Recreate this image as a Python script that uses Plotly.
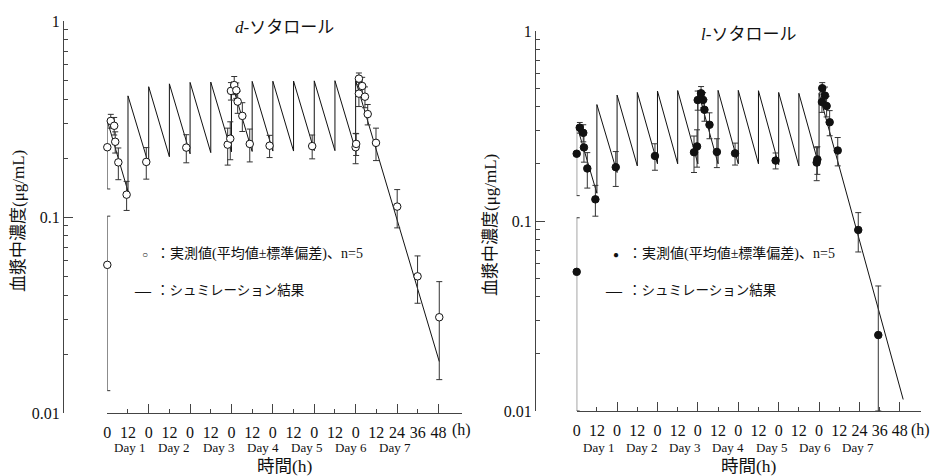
import plotly.graph_objects as go

W, H = 943, 476

# ---- d-sotalol: observed mean and SD (µg/mL) against time (h) ----
D_TIME = [0, 0, 2, 4, 4.6, 6.4, 11.2, 22.6, 45.8,
          69.8, 71.3, 71.7, 73.6, 74.8, 75.6, 78.3, 82.6,
          94.1, 118.8,
          144.0, 144.3, 145.9, 145.9, 147.8, 149.4, 151.0, 155.8,
          168.1, 179.9, 192.5]
D_MEAN = [0.227, 0.057, 0.309, 0.292, 0.242, 0.190, 0.130, 0.191, 0.226,
          0.234, 0.251, 0.440, 0.471, 0.443, 0.388, 0.328, 0.236,
          0.231, 0.230,
          0.227, 0.236, 0.508, 0.426, 0.466, 0.411, 0.335, 0.239,
          0.113, 0.0498, 0.0308]
D_SD = [0.088, 0.044, 0.025, 0.030, 0.030, 0.035, 0.022, 0.035, 0.037,
        0.050, 0.055, 0.045, 0.050, 0.040, 0.050, 0.055, 0.045,
        0.030, 0.032,
        0.040, 0.030, 0.035, 0.060, 0.050, 0.050, 0.040, 0.045,
        0.025, 0.0135, 0.016]

# d-sotalol simulated profile (vertices of the dosing sawtooth)
D_SIM_TIME = [0, 12, 12, 24, 24, 36, 36, 48, 48, 60, 60, 72, 72, 84, 84,
              96, 96, 108, 108, 120, 120, 132, 132, 144, 144, 192.5]
D_SIM_CONC = [0.31, 0.135, 0.415, 0.185, 0.462, 0.203, 0.478, 0.210, 0.486,
              0.213, 0.488, 0.215, 0.490, 0.216, 0.492, 0.217, 0.493,
              0.217, 0.494, 0.218, 0.495, 0.218, 0.496, 0.219, 0.497, 0.0183]

# ---- l-sotalol: observed mean and SD (µg/mL) against time (h) ----
L_TIME = [0, 0, 1.8, 3.9, 4.3, 6.3, 11.1, 23.2, 46.5,
          69.7, 71.5, 71.9, 73.9, 75.1, 75.9, 78.9, 83.3,
          94.1, 118.2,
          142.6, 143.0, 145.9, 145.7, 147.5, 148.5, 150.3, 155.1,
          167.3, 179.2]
L_MEAN = [0.226, 0.054, 0.310, 0.291, 0.244, 0.189, 0.130, 0.192, 0.220,
          0.230, 0.247, 0.433, 0.470, 0.434, 0.385, 0.321, 0.231,
          0.227, 0.208,
          0.203, 0.211, 0.500, 0.423, 0.457, 0.403, 0.331, 0.235,
          0.0897, 0.0251]
L_SD = [0.090, 0.050, 0.020, 0.030, 0.040, 0.040, 0.024, 0.040, 0.035,
        0.050, 0.055, 0.050, 0.040, 0.040, 0.050, 0.050, 0.040,
        0.030, 0.020,
        0.040, 0.035, 0.035, 0.050, 0.050, 0.050, 0.050, 0.040,
        0.021, 0.0204]

L_SIM_TIME = [0, 12, 12, 24, 24, 36, 36, 48, 48, 60, 60, 72, 72, 84, 84,
              96, 96, 108, 108, 120, 120, 132, 132, 144, 144, 194]
L_SIM_CONC = [0.32, 0.14, 0.41, 0.18, 0.46, 0.195, 0.475, 0.20, 0.483,
              0.20, 0.486, 0.20, 0.487, 0.20, 0.487, 0.20, 0.487,
              0.20, 0.485, 0.198, 0.475, 0.195, 0.47, 0.195, 0.47, 0.0115]

# ---- axis labels ----
TICK_HOURS = list(range(0, 193, 12))
TICK_LABELS = ["0", "12"] * 7 + ["24", "36", "48"]
DAY_HOURS = list(range(0, 193, 24))
DAY_LABELS = [f"Day {i}" for i in range(1, 8)]
Y_TICKS = [0.01, 0.1, 1]
Y_LABELS = ["0.01", "0.1", "1"]
Y_MINOR = [m * d for d in (0.01, 0.1) for m in range(2, 10)]

TITLES = ["<i>d</i>-ソタロール", "<i>l</i>-ソタロール"]
Y_TITLE = "血漿中濃度(μg/mL)"
X_TITLE = "時間(h)"
OBS_TEXT = "：実測値(平均値±標準偏差)、n=5"
SIM_TEXT = "：シュミレーション結果"

FONT = "Liberation Serif, 'Noto Sans CJK JP', serif"
AX = "#444"
INK = "#111"
Y_FLOOR = 0.01


def px(p):
    return p / W


def py(p):
    return 1 - p / H


def label(text, x, y, size, xref="paper", xanchor="center", angle=0):
    return dict(text=text, x=x, y=py(y), xref=xref, yref="paper",
                xanchor=xanchor, yanchor="middle", textangle=angle,
                showarrow=False, font=dict(size=size, color=INK, family=FONT))


# panel geometry in pixels
PANELS = [
    dict(yaxis_x=63, x0=107.3, x1=461.7, y_top=21, y_bot=413, xend=205.5,
         time=D_TIME, mean=D_MEAN, sd=D_SD, sim_t=D_SIM_TIME, sim_c=D_SIM_CONC,
         filled=False, title_y=27, leg_sym=145, leg_text=154, ytitle_x=18),
    dict(yaxis_x=535, x0=576.7, x1=920.7, y_top=31, y_bot=411, xend=204.4,
         time=L_TIME, mean=L_MEAN, sd=L_SD, sim_t=L_SIM_TIME, sim_c=L_SIM_CONC,
         filled=True, title_y=35, leg_sym=616, leg_text=626, ytitle_x=490),
]

fig = go.Figure()
annotations = []
layout_axes = {}

for i, p in enumerate(PANELS):
    n = i + 1
    xb = "x" if n == 1 else f"x{n}"          # base x axis (labels, 12 h ticks)
    xo = f"x{n + 2}"                          # overlay x axis (24 h ticks)
    ya = "y" if n == 1 else f"y{n}"
    xb_key = "xaxis" if n == 1 else f"xaxis{n}"
    xo_key = f"xaxis{n + 2}"
    ya_key = "yaxis" if n == 1 else f"yaxis{n}"

    xdom = [px(p["x0"]), px(p["x1"])]
    ydom = [py(p["y_bot"]), py(p["y_top"])]

    # simulated profile
    fig.add_trace(go.Scatter(
        x=p["sim_t"], y=p["sim_c"], mode="lines",
        line=dict(color=INK, width=1), xaxis=xb, yaxis=ya,
        showlegend=False, hoverinfo="skip", cliponaxis=False))

    # observed mean ± SD
    lower = [min(s, m - Y_FLOOR) for m, s in zip(p["mean"], p["sd"])]
    fig.add_trace(go.Scatter(
        x=p["time"], y=p["mean"], mode="markers",
        marker=dict(symbol="circle", size=7.5,
                    color=INK if p["filled"] else "white",
                    line=dict(color=INK, width=1)),
        error_y=dict(type="data", symmetric=False, array=p["sd"],
                     arrayminus=lower, color="#333", thickness=1, width=3),
        xaxis=xo, yaxis=ya, showlegend=False, cliponaxis=False))

    layout_axes[xb_key] = dict(
        domain=xdom, range=[0, p["xend"]], anchor=ya, automargin=False,
        showline=True, linecolor=AX, linewidth=1.2,
        ticks="inside", ticklen=4, tickwidth=1.2, tickcolor=AX,
        tickmode="array", tickvals=TICK_HOURS, ticktext=TICK_LABELS,
        tickfont=dict(size=16, color=INK, family=FONT),
        ticklabelstandoff=5,
        showgrid=False, zeroline=False)
    layout_axes[xo_key] = dict(
        domain=xdom, range=[0, p["xend"]], anchor=ya, overlaying=xb,
        automargin=False,
        showline=False, ticks="inside", ticklen=9, tickwidth=1.2, tickcolor=AX,
        tickmode="array", tickvals=DAY_HOURS + [p["xend"]],
        showticklabels=False, showgrid=False, zeroline=False)
    layout_axes[ya_key] = dict(
        type="log", range=[-2, 0], domain=ydom, automargin=False,
        anchor="free", position=px(p["yaxis_x"]),
        showline=True, linecolor=AX, linewidth=1.2,
        ticks="inside", ticklen=9, tickwidth=1.2, tickcolor=AX,
        tickmode="array", tickvals=Y_TICKS, ticktext=Y_LABELS,
        tickfont=dict(size=16, color=INK, family=FONT),
        minor=dict(ticks="inside", ticklen=4, tickwidth=1.2, tickcolor=AX,
                   tickvals=Y_MINOR),
        showgrid=False, zeroline=False)

    xc = (p["x0"] + p["x1"]) / 2
    annotations.append(label(TITLES[i], px(xc), p["title_y"], 17))
    annotations.append(label(Y_TITLE, px(p["ytitle_x"]),
                             (p["y_top"] + p["y_bot"]) / 2 + 4, 17, angle=-90))
    annotations.append(label(X_TITLE, px(xc), 466, 17.5))
    annotations.append(label("(h)", p["xend"] - 7, 430, 16, xref=xb,
                             xanchor="left"))
    for k, lab in enumerate(DAY_LABELS):
        annotations.append(label(lab, 12.9 + 25.7 * k, 447, 13, xref=xb))
    # key
    annotations.append(label("●" if p["filled"] else "○",
                             px(p["leg_sym"]), 254, 10))
    annotations.append(label(OBS_TEXT, px(p["leg_text"]), 254, 14,
                             xanchor="left"))
    annotations.append(label("―", px(p["leg_sym"] - 2), 290, 16))
    annotations.append(label(SIM_TEXT, px(p["leg_text"]), 290, 13.5,
                             xanchor="left"))

fig.update_layout(
    template="none",
    width=W, height=H, margin=dict(l=0, r=0, t=0, b=0, pad=0, autoexpand=False),
    paper_bgcolor="white", plot_bgcolor="white",
    font=dict(family=FONT, color=INK),
    showlegend=False, annotations=annotations, **layout_axes)

fig.write_html("out.html")
